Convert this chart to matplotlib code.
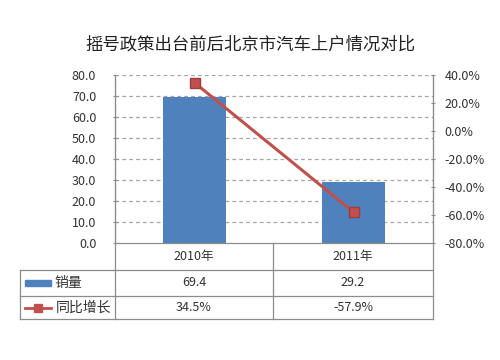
import matplotlib.pyplot as plt
from matplotlib.lines import Line2D
from matplotlib.patches import Rectangle

plt.rcParams['font.family'] = ['Noto Sans CJK SC', 'DejaVu Sans']

title = '摇号政策出台前后北京市汽车上户情况对比'
years = ['2010年', '2011年']
sales = [69.4, 29.2]
growth = [34.5, -57.9]
sales_label = '销量'
growth_label = '同比增长'

W, H = 500, 360
fig = plt.figure(figsize=(5, 3.6), dpi=100)
fig.patch.set_facecolor('white')


def fx(px):
    return px / W


def fy(py):
    return 1 - py / H


x0, x1, ytop, ybot = 115, 433, 75, 243
ax = fig.add_axes([fx(x0), fy(ybot), fx(x1) - fx(x0), fy(ytop) - fy(ybot)])
ax2 = ax.twinx()

gray = '#8c8c8c'
txt = '#333333'
blue = '#4F81BD'
red = '#C0504D'

pos = list(range(len(years)))
ax.bar(pos, sales, width=0.39, color=blue, zorder=3)
ax.set_xlim(-0.5, len(years) - 0.5)
ax.set_ylim(0, 80)
ax.set_yticks(range(0, 81, 10))
ax.set_yticklabels([f'{v:.1f}' for v in range(0, 81, 10)])
ax.set_xticks([])
for v in range(10, 81, 10):
    ax.axhline(v, color='#a6a6a6', lw=0.9, ls=(0, (3, 2.5)), zorder=1)

ax2.plot(pos, growth, color=red, lw=2.2, marker='s', ms=7,
         markerfacecolor=red, markeredgecolor='#a33c39', zorder=4)
ax2.set_ylim(-80, 40)
ax2.set_yticks(range(-80, 41, 20))
ax2.set_yticklabels([f'{v:.1f}%' for v in range(-80, 41, 20)])

for a in (ax, ax2):
    for s in a.spines.values():
        s.set_visible(False)
    a.tick_params(axis='y', colors=gray, labelcolor=txt, labelsize=9,
                  length=3, width=0.8, direction='inout')
ax.spines['left'].set_visible(True)
ax.spines['left'].set_color(gray)
ax2.spines['right'].set_visible(True)
ax2.spines['right'].set_color(gray)
ax.tick_params(axis='y', pad=12)
ax2.tick_params(axis='y', pad=7)
ax.set_zorder(ax2.get_zorder() - 1)
ax2.patch.set_visible(False)

# data table
tl, rows = 20, [243, 270, 296, 319]
cols = [x0, 273, x1]
lc = '#8c8c8c'


def hline(y, xa, xb):
    fig.add_artist(Line2D([fx(xa), fx(xb)], [fy(y), fy(y)], color=lc, lw=0.9))


def vline(x, ya, yb):
    fig.add_artist(Line2D([fx(x), fx(x)], [fy(ya), fy(yb)], color=lc, lw=0.9))


hline(rows[0], x0, x1)
for y in rows[1:]:
    hline(y, tl, x1)
vline(tl, rows[1], rows[3])
for c in cols:
    vline(c, ytop if c != 273 else rows[0], rows[3])

centers = [(cols[i] + cols[i + 1]) / 2 for i in range(len(years))]
rmid = [(rows[i] + rows[i + 1]) / 2 for i in range(3)]
for i, c in enumerate(centers):
    fig.text(fx(c), fy(rmid[0]), years[i], ha='center', va='center', fontsize=9, color=txt)
    fig.text(fx(c), fy(rmid[1]), f'{sales[i]:.1f}', ha='center', va='center', fontsize=9, color=txt)
    fig.text(fx(c), fy(rmid[2]), f'{growth[i]:.1f}%', ha='center', va='center', fontsize=9, color=txt)

# legend keys inside the table
fig.add_artist(Rectangle((fx(25), fy(rmid[1] + 3)), fx(26), fy(0) - fy(6),
                         color=blue, transform=fig.transFigure))
fig.add_artist(Line2D([fx(25), fx(51)], [fy(rmid[2]), fy(rmid[2])], color=red, lw=2))
fig.add_artist(Line2D([fx(38)], [fy(rmid[2])], color=red, marker='s', ms=6, lw=0))
fig.text(fx(54), fy(rmid[1]), sales_label, ha='left', va='center', fontsize=10, color=txt)
fig.text(fx(56), fy(rmid[2]), growth_label, ha='left', va='center', fontsize=10, color=txt)

fig.text(0.5, fy(45), title, ha='center', va='center', fontsize=12.5, color='#222222')

fig.savefig('out.png', dpi=100)
